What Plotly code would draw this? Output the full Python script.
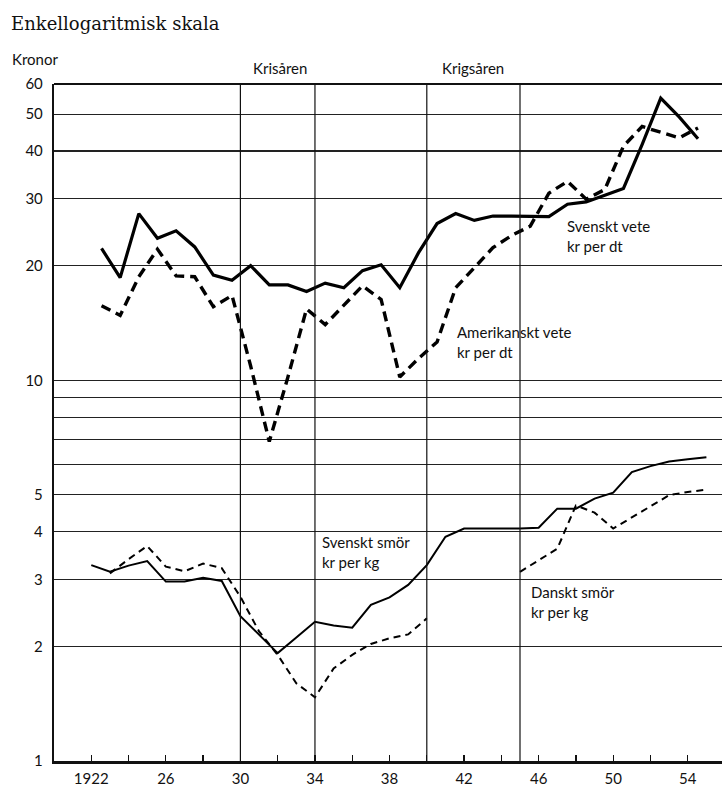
import math
import plotly.graph_objects as go

# ---------------- data ----------------
wheat_years = list(range(1922, 1955))
svenskt_vete = [22.2, 18.6, 27.4, 23.6, 24.7, 22.4, 18.9, 18.3, 20.0, 17.8,
                17.8, 17.1, 18.0, 17.5, 19.4, 20.1, 17.5, 21.6, 25.8, 27.4,
                26.3, 27.0, 27.0, 27.0, 26.9, 29.0, 29.4, 30.6, 31.9, 41.6,
                55.1, 49.1, 43.1]
amerikanskt_vete = [15.7, 14.8, 18.7, 22.1, 18.8, 18.7, 15.6, 16.7, 10.9, 6.9,
                    10.2, 15.4, 14.0, 15.8, 17.7, 16.3, 10.2, 11.4, 12.6, 17.5,
                    19.8, 22.3, 24.0, 25.4, 31.0, 33.3, 29.9, 31.7, 41.2, 46.4,
                    44.8, 43.3, 46.0]
# wheat is plotted per crop year (slightly after the calendar year tick)
WHEAT_SHIFT = 0.55

butter_years = list(range(1922, 1956))
svenskt_smor = [3.27, 3.14, 3.26, 3.35, 2.96, 2.96, 3.03, 2.97, 2.40, 2.14,
                1.92, 2.11, 2.32, 2.27, 2.24, 2.57, 2.69, 2.90, 3.27, 3.88,
                4.08, 4.08, 4.08, 4.08, 4.10, 4.60, 4.60, 4.89, 5.07, 5.74,
                5.95, 6.12, 6.20, 6.28]
danskt_smor = [None, 3.11, 3.39, 3.67, 3.24, 3.15, 3.30, 3.21, 2.70, 2.19,
               1.90, 1.60, 1.47, 1.75, 1.90, 2.03, 2.10, 2.15, 2.37, None,
               None, None, None, 3.14, 3.37, 3.61, 4.69, 4.49, 4.08, 4.36,
               4.65, 4.99, 5.09, 5.16]

x_tick_vals = list(range(1922, 1955, 2))
x_tick_text = ["1922", "", "26", "", "30", "", "34", "", "38", "", "42", "",
               "46", "", "50", "", "54"]
y_tick_vals = [1, 2, 3, 4, 5, 6, 7, 8, 9, 10, 20, 30, 40, 50, 60]
y_tick_text = ["1", "2", "3", "4", "5", "", "", "", "", "10", "20", "30",
               "40", "50", "60"]
period_lines = [1930, 1934, 1940, 1945]
period_labels = [("Krisåren", 1932.1), ("Krigsåren", 1942.5)]

series_labels = [
    ("Svenskt vete<br>kr per dt", 1947.43, 24.0),
    ("Amerikanskt vete<br>kr per dt", 1941.53, 12.6),
    ("Svenskt smör<br>kr per kg", 1934.29, 3.53),
    ("Danskt smör<br>kr per kg", 1945.46, 2.62),
]

SANS = "Lato, 'Open Sans', sans-serif"

fig = go.Figure()

fig.add_trace(go.Scatter(
    x=[y + WHEAT_SHIFT for y in wheat_years], y=svenskt_vete, mode="lines",
    line=dict(color="black", width=3.2), showlegend=False, hoverinfo="skip"))
fig.add_trace(go.Scatter(
    x=[y + WHEAT_SHIFT for y in wheat_years], y=amerikanskt_vete, mode="lines",
    line=dict(color="black", width=3.4, dash="10px,6px"), showlegend=False,
    hoverinfo="skip"))
fig.add_trace(go.Scatter(
    x=butter_years, y=svenskt_smor, mode="lines",
    line=dict(color="black", width=2), showlegend=False, hoverinfo="skip"))
fig.add_trace(go.Scatter(
    x=butter_years, y=danskt_smor, mode="lines", connectgaps=False,
    line=dict(color="black", width=2, dash="7px,5px"), showlegend=False,
    hoverinfo="skip"))

shapes = []
for yr in period_lines:
    shapes.append(dict(type="line", xref="x", yref="paper", x0=yr, x1=yr,
                       y0=0, y1=1, line=dict(color="#111", width=1.2)))
# top frame line
shapes.append(dict(type="line", xref="paper", yref="paper", x0=0, x1=1,
                   y0=1, y1=1, line=dict(color="#111", width=2.2)))

L, R, T, B = 54, 0, 84, 24
W, H = 722, 787
pw, ph = W - L - R, H - T - B


def px_to_paper(px, py):
    return (px - L) / pw, (H - B - py) / ph


annotations = []
for txt, xv, yv in series_labels:
    annotations.append(dict(text=txt, x=xv, y=math.log10(yv), xref="x",
                            yref="y", xanchor="left", yanchor="middle",
                            align="left", showarrow=False,
                            font=dict(family=SANS, size=15, color="#111")))
for txt, xv in period_labels:
    annotations.append(dict(text=txt, x=xv, y=1.024, xref="x", yref="paper",
                            xanchor="center", yanchor="middle",
                            showarrow=False,
                            font=dict(family=SANS, size=15, color="#111")))

tx, ty = px_to_paper(9, 23)
annotations.append(dict(text="Enkellogaritmisk skala", x=tx, y=ty,
                        xref="paper", yref="paper", xanchor="left",
                        yanchor="middle", showarrow=False,
                        font=dict(family="'DejaVu Serif', serif", size=18,
                                  color="#111")))
kx, ky = px_to_paper(10, 59)
annotations.append(dict(text="Kronor", x=kx, y=ky, xref="paper",
                        yref="paper", xanchor="left", yanchor="middle",
                        showarrow=False,
                        font=dict(family=SANS, size=15, color="#111")))

fig.update_layout(
    width=W, height=H,
    margin=dict(l=L, r=R, t=T, b=B, pad=0),
    paper_bgcolor="white", plot_bgcolor="white",
    shapes=shapes, annotations=annotations,
    xaxis=dict(range=[1920.0, 1920.0 + pw / 18.64], showgrid=False,
               zeroline=False, tickmode="array", tickvals=x_tick_vals,
               ticktext=x_tick_text, ticks="inside", ticklen=6,
               tickwidth=1.3, tickcolor="#111", showline=True,
               linecolor="#111", linewidth=3, ticklabelstandoff=2,
               tickfont=dict(family=SANS, size=15, color="#111")),
    yaxis=dict(type="log", range=[0, 1.77815], tickmode="array",
               tickvals=y_tick_vals, ticktext=y_tick_text, showgrid=True,
               gridcolor="#222", gridwidth=1.2, zeroline=False, ticks="",
               showline=True, linecolor="#111", linewidth=2.2,
               ticklabelstandoff=6,
               tickfont=dict(family=SANS, size=15, color="#111")),
)

fig.write_html("out.html",
               config={"displayModeBar": False, "staticPlot": True},
               post_script="document.body.style.margin='0';"
                           "document.body.style.padding='0';")
